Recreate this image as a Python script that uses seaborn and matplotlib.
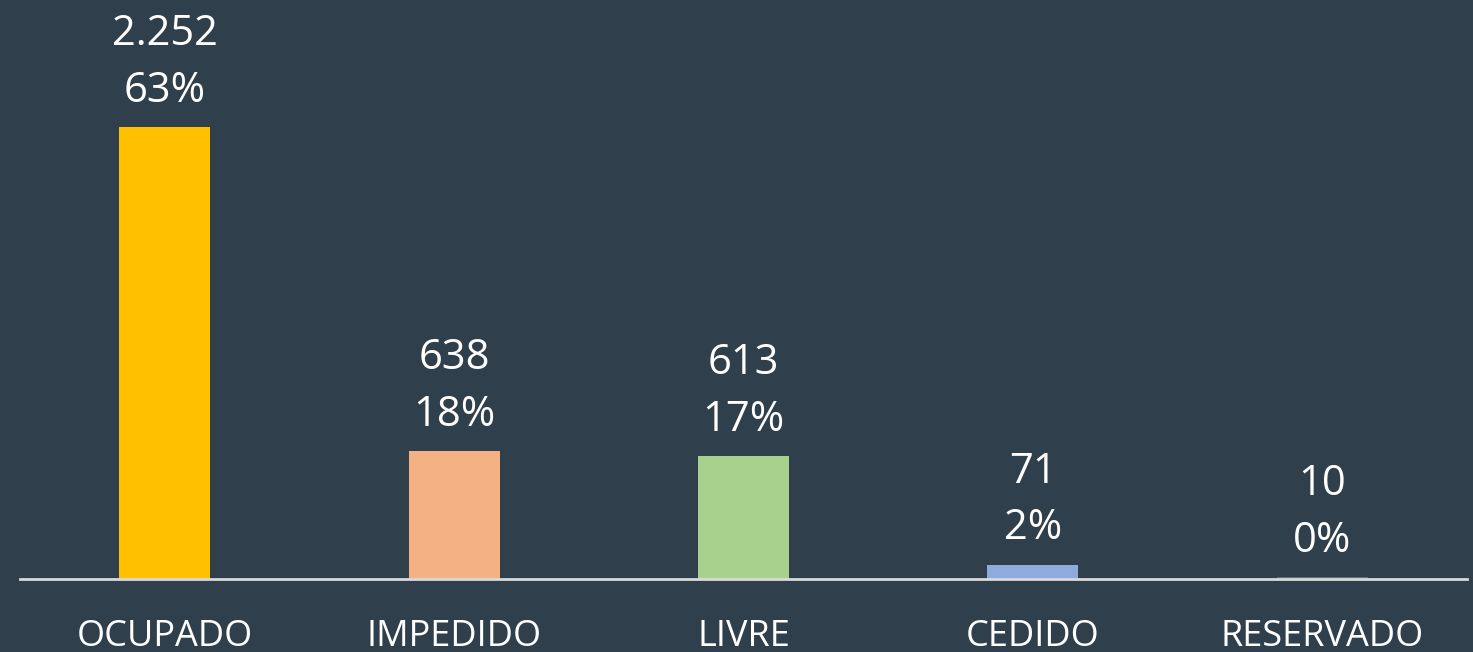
import matplotlib
matplotlib.use('Agg')
import matplotlib.pyplot as plt
import seaborn as sns

# data
categories = ['OCUPADO', 'IMPEDIDO', 'LIVRE', 'CEDIDO', 'RESERVADO']
values = [2252, 638, 613, 71, 10]
value_labels = ['2.252', '638', '613', '71', '10']
pct_labels = ['63%', '18%', '17%', '2%', '0%']
colors = ['#FFC000', '#F4B183', '#A9D18E', '#8FAADC', '#5E6E80']

BG = '#2F3F4C'
sns.set_theme(style='white')
plt.rcParams['font.family'] = ['Open Sans', 'DejaVu Sans']

fig = plt.figure(figsize=(14.73, 6.52), dpi=100, facecolor=BG)
ax = fig.add_axes([20 / 1473, 73 / 652, 1447 / 1473, 579 / 652])
ax.set_facecolor(BG)

sns.barplot(x=categories, y=values, hue=categories, palette=colors,
            width=0.315, legend=False, saturation=1, linewidth=0, ax=ax)

for i, v in enumerate(values):
    ax.annotate(f'{value_labels[i]}\n{pct_labels[i]}', xy=(i, v), xytext=(0, 11),
                textcoords='offset points', ha='center', va='bottom',
                fontsize=30, color='white', linespacing=1.45)

ax.set_xlim(-0.5, 4.5)
ax.set_ylim(0, 2885)
ax.set_yticks([])
ax.set_ylabel('')
for s in ['top', 'right', 'left']:
    ax.spines[s].set_visible(False)
ax.spines['bottom'].set_color('#D9D9D9')
ax.spines['bottom'].set_linewidth(2)
ax.tick_params(axis='x', length=0, pad=29, labelsize=26, labelcolor='white')

fig.savefig('out.png', dpi=100, facecolor=BG)
